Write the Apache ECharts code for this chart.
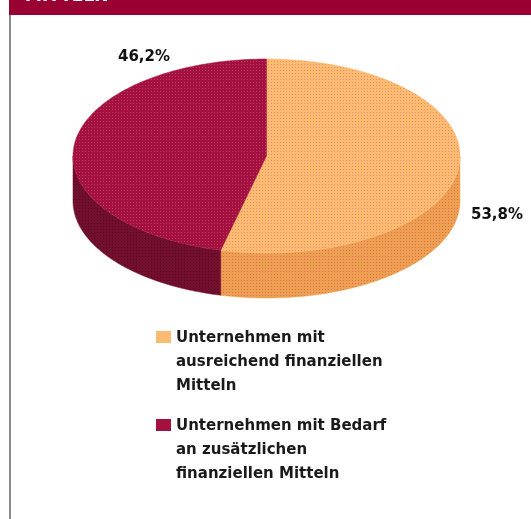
<!DOCTYPE html>
<html>
<head>
<meta charset="UTF-8">
<title>Finanzielle Mittel</title>
<script src="https://cdn.jsdelivr.net/npm/echarts@6/dist/echarts.min.js"></script>
<style>
html, body { margin: 0; padding: 0; background: #fff; }
#container { width: 531px; height: 519px; }
</style>
</head>
<body>
<div id="container"></div>
<script>
// Daten: Anteile in Prozent
var categories = ['Unternehmen mit ausreichend finanziellen Mitteln', 'Unternehmen mit Bedarf an zusätzlichen finanziellen Mitteln'];
var legendLines = [['Unternehmen mit', 'ausreichend finanziellen', 'Mitteln'], ['Unternehmen mit Bedarf', 'an zusätzlichen', 'finanziellen Mitteln']];
var values = [53.8, 46.2];
var valueLabels = ['53,8%', '46,2%'];

// Aussehen
var topColors = ['#fbbb70', '#a3123e'];
var topDots = ['#f08a6c', '#c7346b'];
var sideColors = ['#eea052', '#720f2e'];
var sideDots = ['#e0704e', '#56091f'];
var labelPos = [[497, 215], [144, 57]];
var pie = { cx: 266.5, cy: 156, rx: 193.5, ry: 97, depth: 45 };

var total = values.reduce(function (a, b) { return a + b; }, 0);

// kleines Punktraster wie im Original
function dotPattern(base, dot) {
    var c = document.createElement('canvas');
    c.width = 3; c.height = 3;
    var g = c.getContext('2d');
    g.fillStyle = base; g.fillRect(0, 0, 3, 3);
    g.fillStyle = dot; g.fillRect(1, 1, 1, 1);
    return { image: c, repeat: 'repeat' };
}

function pt(phi, dy) {
    return [pie.cx + pie.rx * Math.sin(phi), pie.cy - pie.ry * Math.cos(phi) + (dy || 0)];
}
function arc(a, b, dy) {
    var pts = [];
    var n = Math.max(2, Math.ceil(Math.abs(b - a) / (Math.PI / 180)));
    for (var i = 0; i <= n; i++) pts.push(pt(a + (b - a) * i / n, dy));
    return pts;
}

// ein Tortenstück mit Seitenwand (3D-Optik)
function renderSlice(params, api) {
    var k = params.seriesIndex;
    var start = 0;
    for (var i = 0; i < k; i++) start += values[i];
    var a = start / total * 2 * Math.PI;
    var b = a + api.value(0) / total * 2 * Math.PI;
    var children = [];
    var s0 = Math.max(a, Math.PI / 2), s1 = Math.min(b, 3 * Math.PI / 2);
    if (s1 > s0) {
        var side = arc(s0, s1, 0).concat(arc(s1, s0, pie.depth));
        children.push({ type: 'polygon', shape: { points: side },
            style: { fill: dotPattern(sideColors[k], sideDots[k]), stroke: sideColors[k], lineWidth: 0.5 } });
    }
    var top = [[pie.cx, pie.cy]].concat(arc(a, b, 0));
    children.push({ type: 'polygon', shape: { points: top },
        style: { fill: dotPattern(topColors[k], topDots[k]), stroke: topColors[k], lineWidth: 0.5 } });
    children.push({ type: 'text', x: labelPos[k][0], y: labelPos[k][1],
        style: { text: valueLabels[k], align: 'center', verticalAlign: 'middle',
            font: 'bold 15px "DejaVu Sans"', fill: '#111' } });
    return { type: 'group', children: children };
}

var mychart = echarts.init(document.getElementById('container'));
var option = {
    animation: false,
    graphic: [
        { type: 'rect', shape: { x: 9, y: 0, width: 522, height: 15 }, style: { fill: '#9b0032' } },
        { type: 'rect', shape: { x: 9, y: 15, width: 2, height: 504 }, style: { fill: '#8c8c8c' } },
        { type: 'text', x: 25, y: -3, style: { text: 'MITTELN', font: 'bold 17px "DejaVu Sans"', fill: '#fff', verticalAlign: 'middle' } }
    ],
    legend: {
        orient: 'vertical',
        left: 156,
        top: 326,
        padding: 0,
        itemGap: 16,
        itemWidth: 15,
        itemHeight: 72,
        icon: 'path://M0,0L0.1,0M0,5H15V17H0ZM0,72L0.1,72',
        itemStyle: { borderWidth: 0 },
        selectedMode: false,
        data: categories,
        formatter: function (name) {
            return legendLines[categories.indexOf(name)].join('\n');
        },
        textStyle: { fontFamily: 'DejaVu Sans', fontWeight: 'bold', fontSize: 15, lineHeight: 24, color: '#1a1a1a' }
    },
    series: categories.map(function (name, k) {
        return {
            type: 'custom',
            name: name,
            coordinateSystem: 'none',
            silent: true,
            renderItem: renderSlice,
            itemStyle: { color: topColors[k] },
            data: [values[k]]
        };
    })
};
mychart.setOption(option);
</script>
</body>
</html>
